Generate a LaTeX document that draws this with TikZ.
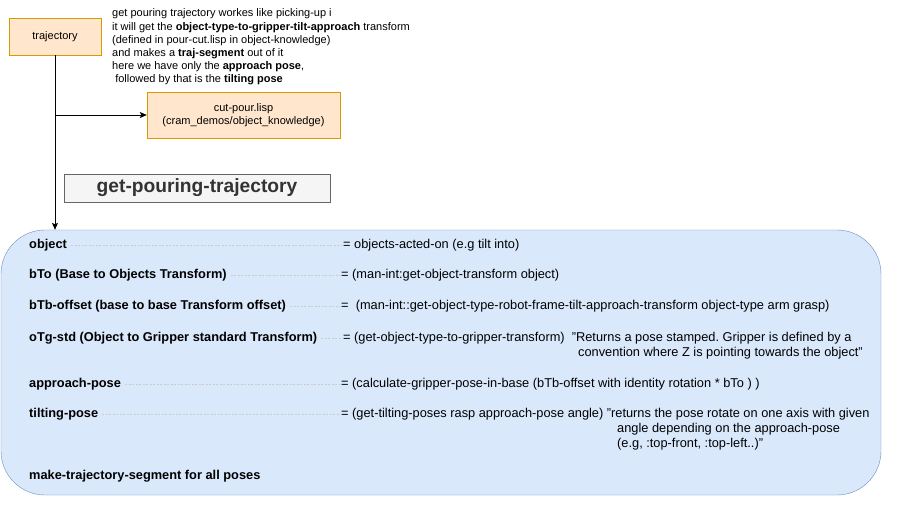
\documentclass[tikz,border=0pt]{standalone}
\usepackage{fontspec}
\setmainfont{Liberation Sans}
\usepackage{tikz}
\usetikzlibrary{arrows.meta}
\frenchspacing

\definecolor{orangefill}{HTML}{FFE6CC}
\definecolor{orangeline}{HTML}{D79B00}
\definecolor{bluefill}{HTML}{DAE8FC}
\definecolor{blueline}{HTML}{6C8EBF}
\definecolor{greyfill}{HTML}{F5F5F5}
\definecolor{greyline}{HTML}{666666}

\tikzset{
  orangebox/.style={draw=orangeline, fill=orangefill, align=center, font=\fontsize{11}{13}\selectfont, inner sep=0pt},
  titlebox/.style={draw=greyline, fill=greyfill, text=black!80, font=\fontsize{19.2}{22}\selectfont\bfseries, inner sep=0pt},
  groupbox/.style={draw=blueline, fill=bluefill, rounded corners=44pt, inner sep=0pt},
  lbl/.style={anchor=west, inner sep=0pt, font=\fontsize{12.8}{15}\selectfont\bfseries},
  val/.style={anchor=west, inner sep=0pt, font=\fontsize{12.8}{15}\selectfont},
  leader/.style={draw=black!20, dash pattern=on 2pt off 1.5pt, line width=0.4pt},
  link/.style={line width=0.8pt, -{Stealth[length=7pt, width=6pt, inset=1.5pt]}}
}

\begin{document}
\begin{tikzpicture}[x=1pt, y=-1pt]
  \useasboundingbox (0,0) rectangle (900,505);

  \node[orangebox, minimum width=92pt, minimum height=37pt] (traj) at (55,36.5) {trajectory};
  \node[orangebox, minimum width=193pt, minimum height=46pt] (cutpour) at (243.5,115) {cut-pour.lisp\\(cram\_demos/object\_knowledge)};
  \node[anchor=west, align=left, inner sep=0pt, font=\fontsize{11}{13.2}\selectfont] (note) at (112,47)
    {get pouring trajectory workes like picking-up i\\
     it will get the \textbf{object-type-to-gripper-tilt-approach} transform\\
     (defined in pour-cut.lisp in object-knowledge)\\
     and makes a \textbf{traj-segment} out of it\\
     here we have only the \textbf{approach pose},\\
     \ followed by that is the \textbf{tilting pose}};

  \node[titlebox, minimum width=266pt, minimum height=28pt] (title) at (197,188) {get-pouring-trajectory};

  \node[groupbox, minimum width=880pt, minimum height=265pt] (body) at (441,362.5) {};

  \draw[link] (traj.south) -- (traj.south |- body.north);
  \coordinate (branch) at (traj.south |- cutpour.west);
  \draw[link] (branch) -- (cutpour.west);

  % rows of the function body
  \node[lbl] (object) at (29,245) {object};
  \node[val] (objectval) at (343,245) {= objects-acted-on (e.g tilt into)};
  \node[lbl] (bto) at (29,275) {bTo (Base to Objects Transform)};
  \node[val] (btoval) at (341,275) {= (man-int:get-object-transform object)};
  \node[lbl] (btb) at (29,306) {bTb-offset (base to base Transform offset)};
  \node[val] (btbval) at (341,306) {=\ \ (man-int::get-object-type-robot-frame-tilt-approach-transform object-type arm grasp)};
  \node[lbl] (otg) at (29,338) {oTg-std (Object to Gripper standard Transform)};
  \node[val] (otgval) at (343,338) {= (get-object-type-to-gripper-transform)\ \ "Returns a pose stamped. Gripper is defined by a};
  \node[val] (otgmore) at (578,353) {convention where Z is pointing towards the object"};
  \node[lbl] (approach) at (29,384) {approach-pose};
  \node[val] (approachval) at (341,384) {= (calculate-gripper-pose-in-base (bTb-offset with identity rotation * bTo ) )};
  \node[lbl] (tilting) at (29,414) {tilting-pose};
  \node[val] (tiltingval) at (341,414) {= (get-tilting-poses rasp approach-pose angle) "returns the pose rotate on one axis with given};
  \node[val, align=left] (tiltingmore) at (617,437) {angle depending on the approach-pose\\(e.g, :top-front, :top-left..)"};
  \node[lbl] (segment) at (29,476) {make-trajectory-segment for all poses};

  \draw[leader] ([xshift=4pt]object.east) -- ([xshift=-2pt]objectval.west);
  \draw[leader] ([xshift=4pt]bto.east) -- ([xshift=-1pt]btoval.west);
  \draw[leader] ([xshift=4pt]btb.east) -- ([xshift=-1pt]btbval.west);
  \draw[leader] ([xshift=4pt]otg.east) -- ([xshift=-2pt]otgval.west);
  \draw[leader] ([xshift=4pt]approach.east) -- ([xshift=-1pt]approachval.west);
  \draw[leader] ([xshift=4pt]tilting.east) -- ([xshift=-1pt]tiltingval.west);
\end{tikzpicture}
\end{document}
